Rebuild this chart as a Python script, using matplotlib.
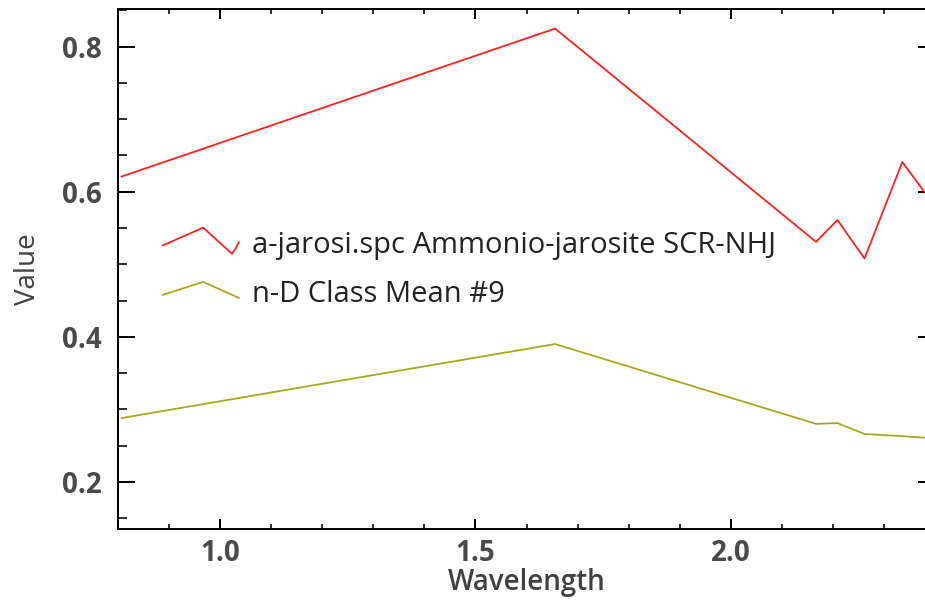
import matplotlib
matplotlib.use("Agg")
import matplotlib.pyplot as plt
from matplotlib.lines import Line2D
from matplotlib.legend_handler import HandlerLine2D
from matplotlib.ticker import MultipleLocator

# ASTER band centres (um) and the two spectra
wavelength = [0.807, 1.656, 2.167, 2.209, 2.262, 2.336, 2.400]
jarosite = [0.621, 0.825, 0.531, 0.561, 0.508, 0.641, 0.580]
class_mean = [0.288, 0.390, 0.280, 0.281, 0.266, 0.263, 0.260]
labels = ["a-jarosi.spc Ammonio-jarosite SCR-NHJ", "n-D Class Mean #9"]
colors = ["#ff2020", "#a8a820"]

# little spectrum-shaped legend icons: x as fraction of handle width,
# y as offset from the row centre in units of handle height
icon_red = ([0.0, 0.53, 0.91, 0.96, 1.0], [-0.15, 0.72, -0.56, -0.3, 0.0])
icon_yel = ([0.0, 0.53, 1.0], [-0.15, 0.48, -0.3])


class SquiggleHandler(HandlerLine2D):
    def __init__(self, shape, **kw):
        super().__init__(**kw)
        self.shape = shape

    def create_artists(self, legend, orig_handle, xdescent, ydescent,
                       width, height, fontsize, trans):
        xs = [-xdescent + f * width for f in self.shape[0]]
        ys = [-ydescent + height * (0.5 + f) for f in self.shape[1]]
        line = Line2D(xs, ys, color=orig_handle.get_color(),
                      lw=orig_handle.get_linewidth())
        line.set_transform(trans)
        return [line]


px = 72 / 100  # pixels -> points

plt.rcParams["font.family"] = ["Open Sans", "DejaVu Sans"]
fig = plt.figure(figsize=(9.25, 6.08), dpi=100)
ax = fig.add_axes([118 / 925, 79 / 608, 817 / 925, 520 / 608])

l1, = ax.plot(wavelength, jarosite, color=colors[0], lw=1.3)
l2, = ax.plot(wavelength, class_mean, color=colors[1], lw=1.3)

ax.set_xlim(0.80, 2.40)
ax.set_ylim(0.135, 0.852)
ax.xaxis.set_major_locator(MultipleLocator(0.5))
ax.xaxis.set_minor_locator(MultipleLocator(0.1))
ax.yaxis.set_major_locator(MultipleLocator(0.2))
ax.yaxis.set_minor_locator(MultipleLocator(0.05))
ax.xaxis.set_major_formatter(lambda v, p: f"{v:.1f}")
ax.yaxis.set_major_formatter(lambda v, p: f"{v:.1f}")

ax.tick_params(axis="y", which="major", direction="in", length=17 * px, width=2 * px,
               left=True, right=True, labelsize=20, labelcolor="#4a4a4a", pad=12)
ax.tick_params(axis="y", which="minor", direction="in", length=9 * px, width=1.6 * px,
               left=True, right=True)
ax.tick_params(axis="x", which="major", direction="in", length=10 * px, width=2 * px,
               bottom=True, top=True, labelsize=20, labelcolor="#4a4a4a", pad=7)
ax.tick_params(axis="x", which="minor", direction="in", length=5 * px, width=1.6 * px,
               bottom=True, top=True)
for t in ax.get_xticklabels() + ax.get_yticklabels():
    t.set_fontweight("bold")
for s in ax.spines.values():
    s.set_linewidth(2 * px)

ax.set_xlabel("Wavelength", fontsize=20, color="#404040", fontweight="semibold", labelpad=0)
ax.set_ylabel("Value", fontsize=20, color="#404040", labelpad=14)

ax.legend([l1, l2], labels, loc="upper left", bbox_to_anchor=(0.055, 0.574),
          frameon=False, fontsize=21, handlelength=2.6, handletextpad=0.45,
          labelspacing=0.7, labelcolor="#222222", borderpad=0, borderaxespad=0,
          handler_map={l1: SquiggleHandler(icon_red), l2: SquiggleHandler(icon_yel)})

fig.savefig("out.png", dpi=100)
